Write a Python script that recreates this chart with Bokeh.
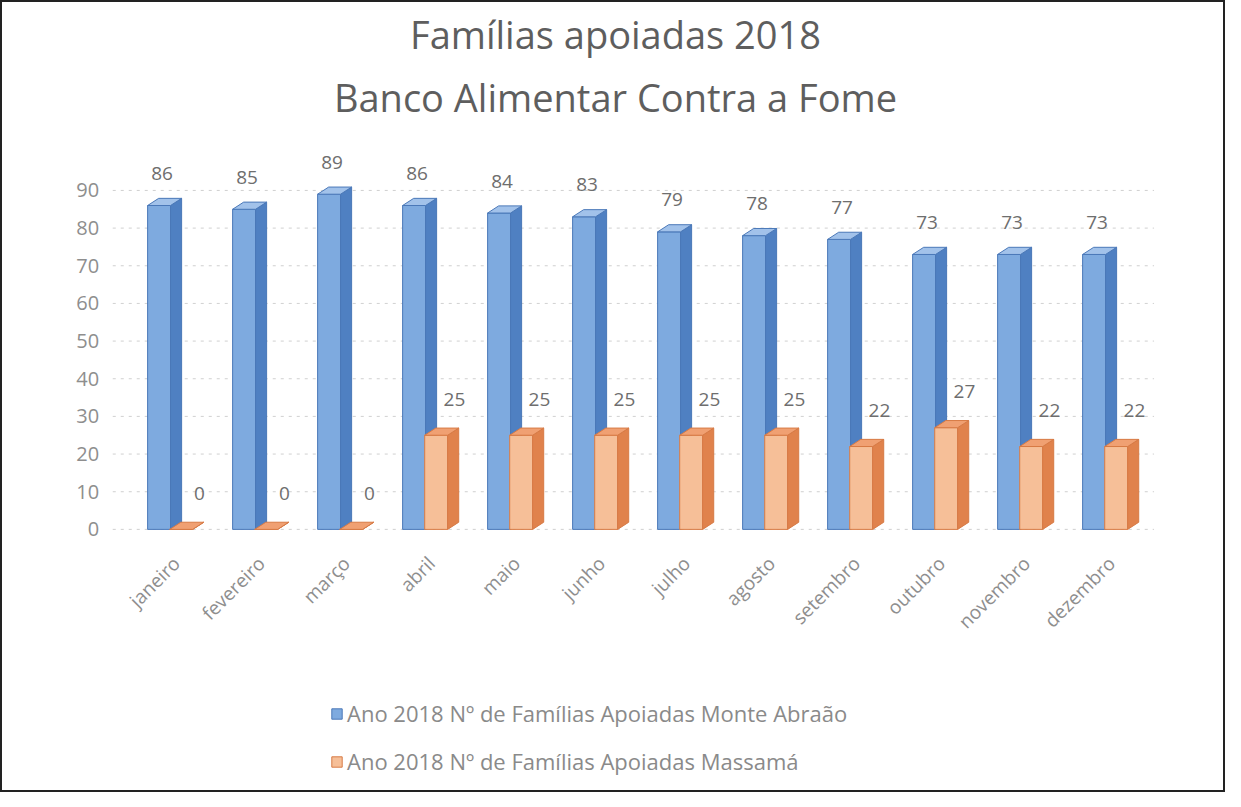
import numpy as np
from bokeh.plotting import figure
from bokeh.models import Range1d, FixedTicker, Legend, LegendItem, Title
from bokeh.embed import file_html
from bokeh.resources import INLINE
from bokeh.core.properties import value

# ---- data ----
months = ["janeiro", "fevereiro", "março", "abril", "maio", "junho",
          "julho", "agosto", "setembro", "outubro", "novembro", "dezembro"]
monte_abraao = [86, 85, 89, 86, 84, 83, 79, 78, 77, 73, 73, 73]
massama = [0, 0, 0, 25, 25, 25, 25, 25, 22, 27, 22, 22]
series_names = ["Ano 2018 Nº de Famílias Apoiadas Monte Abraão",
                "Ano 2018 Nº de Famílias Apoiadas Massamá"]
y_ticks = [0, 10, 20, 30, 40, 50, 60, 70, 80, 90]
title_lines = ["Famílias apoiadas 2018", "Banco Alimentar Contra a Fome"]

FONT = "Open Sans"
x = np.arange(len(months), dtype=float)

# frame spans the area of bars, category labels and legend
p = figure(width=1225, height=792, output_backend="svg", toolbar_location=None,
           x_range=Range1d(-1.906, 12.235), y_range=Range1d(-70.4, 102.2),
           min_border_left=12, min_border_right=11, min_border_top=142,
           min_border_bottom=0)
p.styles = {"border": "2px solid #222222", "box-sizing": "border-box"}
p.outline_line_color = None
p.background_fill_color = "white"

# titles (added from closest to farthest)
p.add_layout(Title(text=title_lines[1], align="center", text_font=FONT,
                   text_font_size="38px", text_font_style="normal",
                   text_color="#5e5e5e", standoff=43), "above")
p.add_layout(Title(text=title_lines[0], align="center", text_font=FONT,
                   text_font_size="38px", text_font_style="normal",
                   text_color="#5e5e5e", standoff=-24), "above")

# axes
p.yaxis.fixed_location = -0.78
p.yaxis.ticker = FixedTicker(ticks=y_ticks)
p.yaxis.axis_line_color = None
p.yaxis.major_tick_line_color = None
p.yaxis.minor_tick_line_color = None
p.yaxis.major_label_text_font = FONT
p.yaxis.major_label_text_font_size = "20px"
p.yaxis.major_label_text_color = "#8e8e8e"
p.yaxis.major_label_standoff = 5

p.xaxis.fixed_location = -6
p.xaxis.ticker = FixedTicker(ticks=list(x))
p.xaxis.major_label_overrides = {i: m for i, m in enumerate(months)}
p.xaxis.major_label_orientation = np.pi / 4
p.xaxis.axis_line_color = None
p.xaxis.major_tick_line_color = None
p.xaxis.minor_tick_line_color = None
p.xaxis.major_label_text_font = FONT
p.xaxis.major_label_text_font_size = "19px"
p.xaxis.major_label_text_color = "#8e8e8e"
p.xaxis.major_label_standoff = 2

p.xgrid.grid_line_color = None
p.ygrid.grid_line_color = None

# dashed gridlines behind the bars
p.segment(x0=-0.75, x1=11.5, y0=y_ticks, y1=y_ticks, line_color="#c4c4c4",
          line_dash="3 5", line_alpha=0.8, line_width=1)

DX = 0.13   # depth in x (category units)
DY = 1.9    # depth in y (data units)


def bar3d(offset, width, vals, front, side, top, edge):
    vals = np.asarray(vals, dtype=float)
    left = x + offset
    right = left + width
    r = p.quad(left=left, right=right, bottom=0, top=vals,
               fill_color=front, line_color=edge, line_width=1)
    side_xs = [[rr, rr + DX, rr + DX, rr] for rr in right]
    side_ys = [[0, DY, v + DY, v] for v in vals]
    p.patches(side_xs, side_ys, fill_color=side, line_color=edge, line_width=1)
    top_xs = [[ll, ll + DX, rr + DX, rr] for ll, rr in zip(left, right)]
    top_ys = [[v, v + DY, v + DY, v] for v in vals]
    p.patches(top_xs, top_ys, fill_color=top, line_color=edge, line_width=1)
    return r


r_blue = bar3d(-0.34, 0.27, monte_abraao, "#7eaadf", "#4f80c2", "#a2c2ea", "#4a78b8")
r_orange = bar3d(-0.08, 0.27, massama, "#f6bf98", "#e0824c", "#f0a072", "#d77a45")

# data labels
p.text(x=x - 0.17, y=np.array(monte_abraao) + 8.5, text=[str(v) for v in monte_abraao],
       text_align="center", text_baseline="middle", text_font=value(FONT),
       text_font_size="19px", text_color="#6e6e6e")
p.text(x=x + 0.27, y=np.array(massama) + 9.5, text=[str(v) for v in massama],
       text_align="center", text_baseline="middle", text_font=value(FONT),
       text_font_size="19px", text_color="#6e6e6e")

legend = Legend(items=[LegendItem(label=series_names[0], renderers=[r_blue]),
                       LegendItem(label=series_names[1], renderers=[r_orange])],
                orientation="vertical", location=(316, 18),
                label_text_font=FONT, label_text_font_size="22px",
                label_text_color="#8a8a8a", glyph_width=13, glyph_height=13,
                label_standoff=4, spacing=18, padding=0, border_line_color=None,
                margin=0, background_fill_alpha=0)
p.add_layout(legend, "center")

open("out.html", "w").write(file_html(p, INLINE))
